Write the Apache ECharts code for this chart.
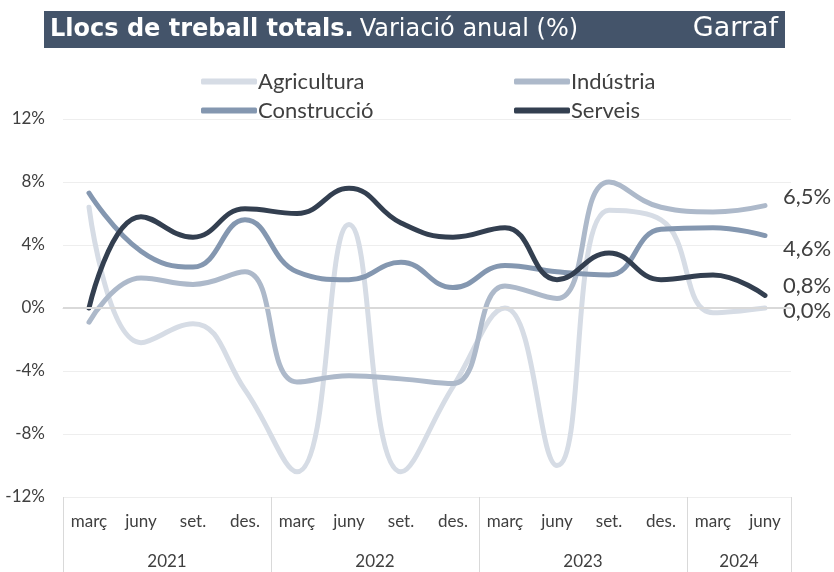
<!DOCTYPE html>
<html>
<head>
<meta charset="utf-8">
<script src="https://cdn.jsdelivr.net/npm/echarts@6/dist/echarts.min.js"></script>
<style>
  html, body { margin: 0; padding: 0; background: #fff; }
  #chart { width: 834px; height: 572px; }
</style>
</head>
<body>
<div id="chart"></div>
<script>
// trimestres
var mesos = ['març', 'juny', 'set.', 'des.', 'març', 'juny', 'set.', 'des.', 'març', 'juny', 'set.', 'des.', 'març', 'juny'];
var anys = ['2021', '2021', '2021', '2021', '2022', '2022', '2022', '2022', '2023', '2023', '2023', '2023', '2024', '2024'];
var anyLabelIdx = [1, 5, 9, 12];

var agricultura = [6.4, -2.2, -1.0, -5.2, -10.4, 5.3, -10.4, -5.0, 0.0, -10.0, 6.2, 5.6, -0.3, 0.0];
var industria = [-0.9, 1.9, 1.5, 2.3, -4.7, -4.3, -4.5, -4.8, 1.4, 0.6, 8.0, 6.4, 6.1, 6.5];
var construccio = [7.3, 3.6, 2.6, 5.6, 2.3, 1.8, 2.9, 1.3, 2.7, 2.3, 2.1, 5.0, 5.1, 4.6];
var serveis = [0.0, 5.8, 4.5, 6.3, 6.0, 7.6, 5.4, 4.5, 5.1, 1.8, 3.5, 1.8, 2.1, 0.8];

var colors = ['#D6DCE5', '#ADB9CA', '#8497B0', '#333F50'];
var font = 'Lato';
var titleFont = 'DejaVu Sans';

var myChart = echarts.init(document.getElementById('chart'));

function pct(v) {
  return v.toFixed(1).replace('.', ',') + '%';
}

function serie(name, data, color, offset) {
  return {
    name: name,
    type: 'line',
    data: data,
    smooth: 0.45,
    symbol: 'none',
    lineStyle: { width: 5, color: color, cap: 'round' },
    itemStyle: { color: color },
    endLabel: {
      show: true,
      distance: 18,
      offset: offset,
      color: '#404040',
      fontSize: 22,
      fontFamily: font,
      formatter: function (p) { return pct(p.value); }
    }
  };
}

var series = [
  serie('Agricultura', agricultura, colors[0], [0, 3]),
  serie('Indústria', industria, colors[1], [0, -9]),
  serie('Construcció', construccio, colors[2], [0, 13]),
  serie('Serveis', serveis, colors[3], [0, -9])
];
series[0].markLine = {
  silent: true,
  symbol: 'none',
  label: { show: false },
  lineStyle: { color: '#d9d9d9', width: 2, type: 'solid' },
  data: [{ yAxis: 0 }]
};

var legendBase = {
  orient: 'vertical',
  top: 65,
  itemGap: 6,
  itemWidth: 56,
  itemHeight: 6,
  icon: 'roundRect',
  textStyle: { color: '#404040', fontSize: 22, lineHeight: 23, fontFamily: font, padding: [0, 0, 0, -4] }
};

myChart.setOption({
  animation: false,
  backgroundColor: '#fff',
  graphic: [
    { type: 'rect', shape: { x: 44, y: 11, width: 741, height: 37 }, style: { fill: '#44546A' } },
    {
      type: 'text', x: 50, y: 30,
      style: {
        text: '{b|Llocs de treball totals.}{s| }{n|Variació anual (%)}',
        verticalAlign: 'middle',
        rich: {
          b: { fill: '#fff', fontSize: 24, fontWeight: 'bold', fontFamily: titleFont },
          s: { fill: '#fff', fontSize: 24, fontFamily: titleFont, width: 6 },
          n: { fill: '#fff', fontSize: 24, fontFamily: titleFont }
        }
      }
    },
    {
      type: 'text', x: 778, y: 29,
      style: { text: 'Garraf', fill: '#fff', fontSize: 27, fontFamily: titleFont, align: 'right', verticalAlign: 'middle' }
    }
  ],
  legend: [
    Object.assign({ left: 196, data: ['Agricultura', 'Construcció'] }, legendBase),
    Object.assign({ left: 509, data: ['Indústria', 'Serveis'] }, legendBase)
  ],
  grid: { left: 63, right: 43, top: 119, bottom: 75, containLabel: false },
  xAxis: [
    {
      type: 'category',
      data: mesos,
      boundaryGap: true,
      axisLine: { show: true, lineStyle: { color: '#d9d9d9', width: 1 } },
      axisTick: { show: false },
      axisLabel: { interval: 0, margin: 16, color: '#404040', fontSize: 17, fontFamily: font }
    },
    {
      type: 'category',
      data: anys,
      boundaryGap: true,
      position: 'bottom',
      axisLine: { show: false },
      axisTick: { show: true, interval: 3, length: 76, lineStyle: { color: '#d9d9d9' } },
      axisLabel: {
        margin: 56,
        interval: function (i) { return anyLabelIdx.indexOf(i) >= 0; },
        formatter: function (v) { return '{a|' + v + '}'; },
        rich: { a: { padding: [0, 0, 0, 52], color: '#404040', fontSize: 17, fontFamily: font } }
      }
    }
  ],
  yAxis: {
    type: 'value',
    min: -12,
    max: 12,
    interval: 4,
    axisLine: { show: false },
    axisTick: { show: false },
    axisLabel: {
      margin: 18,
      color: '#404040',
      fontSize: 17,
      fontFamily: font,
      formatter: function (v) { return v + '%'; }
    },
    splitLine: { lineStyle: { color: '#eeeeee', width: 1 } }
  },
  series: series
});
</script>
</body>
</html>
